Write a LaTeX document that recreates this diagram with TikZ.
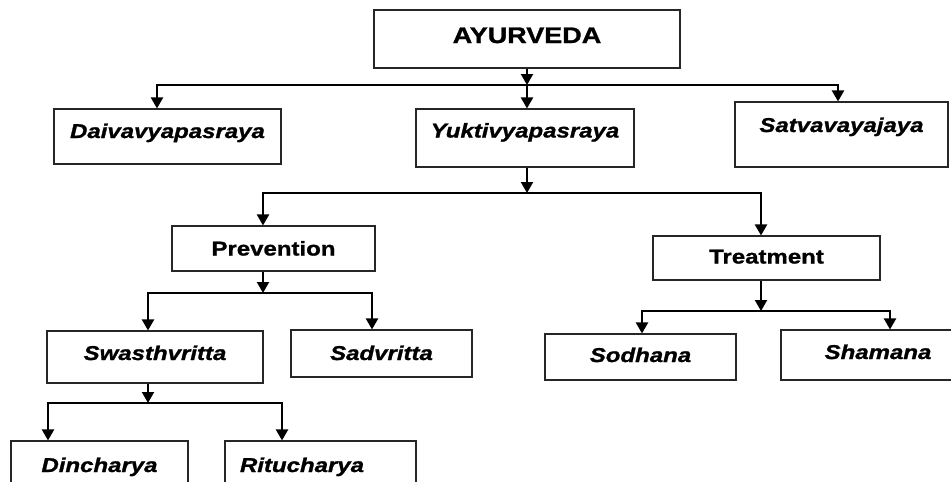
\documentclass[tikz,border=0pt]{standalone}
\usepackage{fontspec}
\newfontfamily\chartfont{Liberation Sans}[FakeStretch=1.2,FakeBold=1.2]
\usetikzlibrary{arrows.meta}

\tikzset{
  box/.style={draw=black!85, line width=1.1pt, inner sep=0pt,
    font=\chartfont\bfseries\itshape\fontsize{20}{24}\selectfont,
    text height=14pt, text depth=0pt},
  headbox/.style={box, font=\chartfont\bfseries\fontsize{20}{24}\selectfont},
  bar/.style={line width=2.2pt, line cap=rect},
  conn/.style={line width=2.2pt, -{Triangle[width=12pt,length=11pt]}},
}

\begin{document}
\begin{tikzpicture}[x=1pt,y=-1pt]
\useasboundingbox (0,0) rectangle (951,482);
\clip (0,0) rectangle (951,482);
% boxes
\node[headbox, minimum width=306pt, minimum height=58pt, font=\chartfont\bfseries\fontsize{22.5}{26}\selectfont, text height=16pt, text depth=8pt] (ayur) at (527,39) {AYURVEDA};
\node[box, minimum width=227pt, minimum height=55pt, text depth=11pt] (daiva) at (167.5,136.5) {Daivavyapasraya};
\node[box, minimum width=218pt, minimum height=58pt, text depth=15pt] (yukti) at (525,138) {Yuktivyapasraya};
\node[box, minimum width=213pt, minimum height=65pt, text depth=19pt] (satva) at (841.5,134.5) {Satvavayajaya};
\node[headbox, minimum width=203pt, minimum height=45pt] (prev) at (273.5,248.5) {Prevention};
\node[headbox, minimum width=227pt, minimum height=44pt, text depth=3pt] (treat) at (766.5,258) {Treatment};
\node[box, minimum width=216pt, minimum height=52pt, text depth=8pt] (swasth) at (155,357) {Swasthvritta};
\node[box, minimum width=181pt, minimum height=47pt, text depth=1pt] (sadv) at (381.5,353.5) {Sadvritta};
\node[box, minimum width=177pt, minimum height=64pt, text depth=16pt] (dinch) at (99.5,473) {Dincharya};
\node[box, minimum width=191pt, minimum height=64pt, text depth=16pt, text width=161pt, align=left] (ritu) at (320.5,473) {Ritucharya};
\node[box, minimum width=191pt, minimum height=46pt, text depth=4pt] (sodh) at (640.5,357) {Sodhana};
\node[box, minimum width=194pt, minimum height=50pt, text depth=6pt] (sham) at (878,355) {Shamana};

% AYURVEDA branches
\coordinate (b1w) at (157,85);
\coordinate (b1e) at (838,85);
\draw[bar] (b1w) -- (b1e);
\draw[conn] (ayur.south) -- (ayur.south |- b1w);
\draw[conn] (ayur.south |- b1w) -- (yukti.north -| ayur.south);
\draw[conn] (b1w) -- (daiva.north -| b1w);
\draw[conn] (b1e) -- (satva.north -| b1e);
% Yuktivyapasraya branches
\coordinate (b2w) at (263,193);
\coordinate (b2e) at (761,193);
\draw[bar] (b2w) -- (b2e);
\draw[conn] (yukti.south -| ayur.south) -- (ayur.south |- b2w);
\draw[conn] (b2w) -- (prev.north -| b2w);
\draw[conn] (b2e) -- (treat.north -| b2e);
% Prevention
\coordinate (b3w) at (148,293);
\coordinate (b3e) at (372,293);
\draw[bar] (b3w) -- (b3e);
\draw[conn] (prev.south -| b2w) -- (b2w |- b3w);
\draw[conn] (b3w) -- (swasth.north -| b3w);
\draw[conn] (b3e) -- (sadv.north -| b3e);
% Swasthvritta
\coordinate (b4w) at (48,403);
\coordinate (b4e) at (282,403);
\draw[bar] (b4w) -- (b4e);
\draw[conn] (swasth.south -| b3w) -- (b3w |- b4w);
\draw[conn] (b4w) -- (dinch.north -| b4w);
\draw[conn] (b4e) -- (ritu.north -| b4e);
% Treatment
\coordinate (b5w) at (642,311);
\coordinate (b5e) at (890,311);
\draw[bar] (b5w) -- (b5e);
\draw[conn] (treat.south -| b2e) -- (b2e |- b5w);
\draw[conn] (b5w) -- (sodh.north -| b5w);
\draw[conn] (b5e) -- (sham.north -| b5e);
\end{tikzpicture}
\end{document}
